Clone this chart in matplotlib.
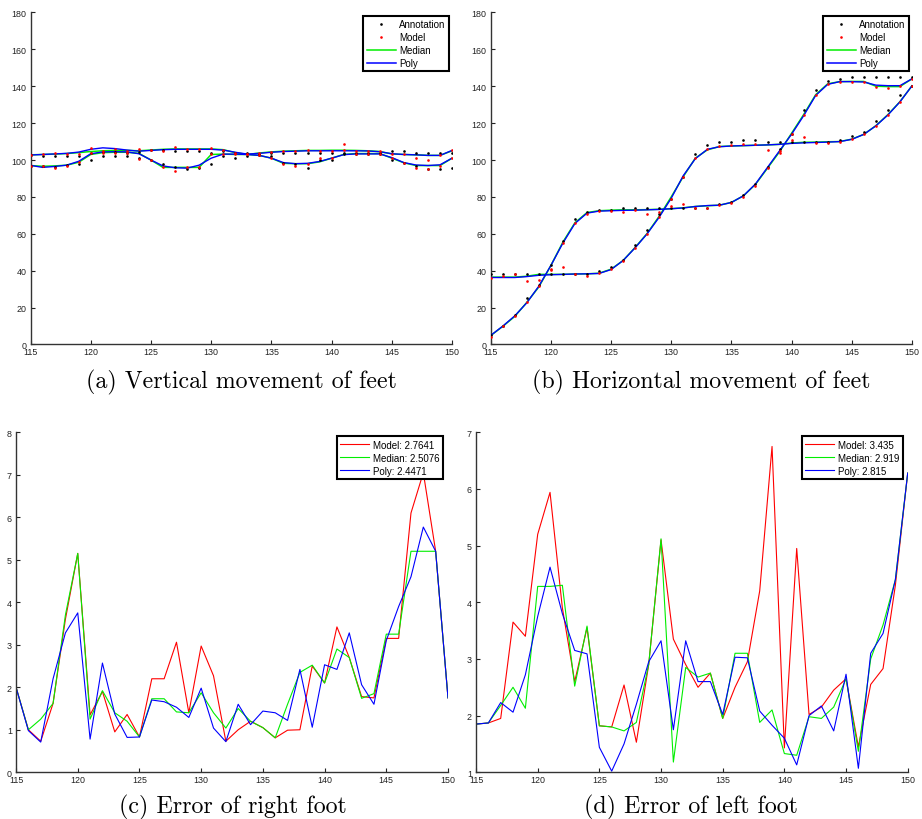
import matplotlib
matplotlib.use("Agg")
import matplotlib.pyplot as plt
from matplotlib.lines import Line2D

frames = list(range(115, 151))

# (a) vertical movement of feet
vert_poly_1 = [102.7, 103.0, 103.3, 103.6, 104.3, 105.8, 106.6, 106.2, 105.4, 104.8,
               105.2, 105.6, 105.8, 105.8, 105.8, 105.8, 105.4, 104.2, 103.2, 103.6,
               104.2, 104.6, 104.8, 105.0, 105.0, 105.0, 105.0, 105.0, 104.9, 104.5,
               103.4, 103.0, 102.8, 102.5, 102.5, 105.2]
vert_poly_2 = [97.1, 96.0, 96.5, 97.2, 99.3, 103.4, 104.4, 104.5, 104.4, 103.4,
               100.0, 96.8, 95.8, 95.6, 97.2, 101.0, 103.2, 103.2, 103.0, 102.5,
               101.0, 98.6, 98.0, 98.2, 99.2, 101.0, 102.9, 103.3, 103.3, 103.3,
               101.3, 98.6, 97.3, 97.0, 97.4, 101.0]
vert_med_1 = [102.8, 103.0, 103.2, 103.5, 104.0, 104.6, 105.0, 105.2, 105.2, 105.0,
              105.4, 105.8, 106.0, 106.0, 106.0, 106.0, 105.6, 104.0, 103.0, 103.8,
              104.4, 104.8, 105.0, 105.2, 105.2, 105.3, 105.3, 105.2, 105.0, 104.6,
              103.3, 103.0, 102.8, 102.5, 102.5, 105.0]
vert_med_2 = [97.0, 96.6, 96.8, 97.2, 98.8, 103.0, 104.0, 104.2, 104.2, 103.6,
              100.0, 96.0, 96.0, 96.0, 96.0, 103.0, 103.2, 103.0, 103.0, 102.5,
              101.0, 98.2, 98.0, 98.0, 99.0, 101.0, 103.0, 103.5, 103.5, 103.5,
              101.0, 98.5, 97.0, 97.0, 97.0, 101.0]
vert_ann_1 = [102.7, 102.2, 102.2, 102.2, 102.2, 104.0, 102.2, 102.2, 104.0, 104.5,
              105.4, 105.4, 104.9, 104.9, 104.9, 104.0, 105.0, 103.6, 103.6, 103.5,
              104.0, 104.0, 104.0, 104.0, 104.0, 104.0, 104.0, 104.0, 104.0, 104.0,
              104.9, 104.9, 103.6, 103.6, 103.6, 103.6]
vert_ann_2 = [97.0, 96.7, 96.0, 97.3, 97.8, 100.0, 104.5, 104.5, 102.2, 101.0,
              100.0, 98.0, 96.0, 95.0, 95.8, 98.0, 102.2, 101.0, 102.2, 102.5,
              102.2, 98.2, 98.0, 95.8, 99.8, 99.8, 103.0, 103.0, 103.0, 103.0,
              100.0, 98.5, 97.0, 95.0, 95.0, 95.8]
vert_mod_1 = [102.7, 103.0, 103.6, 103.2, 103.0, 106.3, 105.0, 106.2, 105.0, 106.2,
              105.5, 104.9, 106.9, 106.0, 106.0, 106.7, 105.2, 104.0, 103.0, 104.0,
              104.5, 105.0, 105.0, 105.5, 105.0, 105.0, 108.5, 105.0, 105.0, 105.0,
              103.5, 103.0, 101.3, 100.0, 102.5, 105.5]
vert_mod_2 = [97.0, 96.5, 95.7, 97.0, 99.0, 104.0, 104.0, 104.0, 104.0, 100.5,
              100.0, 96.0, 94.0, 96.0, 96.0, 103.0, 103.0, 103.0, 103.0, 102.5,
              101.0, 98.0, 96.7, 98.0, 101.3, 101.0, 105.5, 103.5, 103.5, 103.5,
              101.0, 98.5, 95.8, 95.0, 97.0, 101.3]

# (b) horizontal movement of feet
hor_poly_A = [36.3, 36.3, 36.3, 36.8, 37.5, 37.8, 38.0, 38.2, 38.3, 38.5,
              40.6, 45.5, 52.4, 60.0, 69.0, 79.3, 91.5, 100.7, 105.8, 107.2,
              107.6, 107.8, 108.0, 108.2, 108.5, 109.0, 109.3, 109.5, 109.7, 110.0,
              111.2, 113.9, 118.5, 124.4, 131.5, 140.2]
hor_poly_B = [4.9, 9.9, 15.5, 22.6, 31.6, 42.8, 55.0, 65.6, 71.2, 72.3,
              72.5, 72.7, 72.8, 73.0, 73.2, 73.6, 74.0, 74.8, 75.3, 75.5,
              77.0, 80.6, 87.0, 96.0, 105.0, 114.0, 124.0, 135.0, 141.0, 142.5,
              142.5, 142.3, 140.6, 140.3, 140.3, 144.0]
hor_med_A = [36.5, 36.5, 36.5, 37.0, 38.0, 38.0, 38.0, 38.2, 38.3, 38.6,
             40.8, 45.5, 52.6, 60.2, 69.5, 80.0, 91.0, 101.0, 105.5, 107.3,
             107.6, 107.8, 108.0, 108.2, 108.5, 109.2, 109.6, 109.7, 109.9, 110.0,
             111.3, 113.9, 118.6, 124.6, 131.6, 140.2]
hor_med_B = [4.8, 9.8, 15.2, 22.8, 31.2, 42.8, 55.5, 66.0, 71.5, 72.5,
             72.8, 73.0, 73.0, 73.1, 73.3, 73.6, 74.1, 74.8, 75.2, 75.5,
             77.0, 80.6, 86.8, 95.6, 104.5, 114.5, 124.6, 135.4, 141.3, 142.5,
             142.6, 142.6, 140.0, 139.8, 139.8, 144.0]
hor_ann_A = [38, 38, 38, 38, 38, 38, 38, 38, 38, 40,
             42, 46, 54, 62, 71, 79, 91, 103, 108, 110,
             110, 111, 111, 110, 110, 110, 110, 110, 110, 111,
             113, 115, 121, 127, 135, 140]
hor_ann_B = [5, 10, 16, 25, 32, 43, 56, 68, 72, 73,
             73, 74, 74, 74, 74, 74, 74, 74, 74, 76,
             77, 81, 87, 96, 106, 114, 127, 138, 143, 144,
             145, 145, 145, 145, 145, 145]
hor_mod_A = [36.3, 37, 38, 34.5, 35.2, 40.5, 41.8, 38, 37.3, 38.5,
             41, 45.5, 52.5, 60, 69, 79, 91, 101, 106, 107.5,
             108, 108.5, 108.5, 105.5, 104, 111, 112.3, 109, 109, 110,
             111.5, 114, 118.5, 124.5, 131.5, 140]
hor_mod_B = [4, 10, 15.5, 23, 31.6, 41, 55, 66, 71, 72.5,
             72.5, 72, 73, 71, 72, 75, 76, 74, 74, 75.5,
             76.5, 80, 86, 95.6, 105, 114, 124.5, 135, 141, 142.5,
             142.5, 142.5, 139.4, 139, 140, 144]

# (c) error of right foot
right_model = [2.0, 1.0, 0.73, 1.62, 3.6, 5.15, 1.35, 1.9, 0.95, 1.36,
               0.83, 2.2, 2.2, 3.06, 1.4, 2.97, 2.27, 0.73, 1.0, 1.2,
               1.05, 0.81, 0.99, 1.0, 2.5, 2.1, 3.42, 2.7, 1.78, 1.75,
               3.15, 3.15, 6.1, 7.05, 5.2, 1.75]
right_median = [2.0, 1.0, 1.25, 1.62, 3.7, 5.15, 1.25, 1.92, 1.4, 1.2,
                0.83, 1.73, 1.73, 1.42, 1.4, 1.87, 1.4, 1.04, 1.5, 1.2,
                1.05, 0.81, 1.6, 2.35, 2.52, 2.1, 2.9, 2.7, 1.74, 1.85,
                3.25, 3.25, 5.2, 5.2, 5.2, 1.75]
right_poly = [2.0, 0.98, 0.71, 2.2, 3.28, 3.75, 0.78, 2.57, 1.37, 0.82,
              0.83, 1.7, 1.66, 1.53, 1.29, 1.98, 1.04, 0.72, 1.6, 1.12,
              1.44, 1.4, 1.22, 2.42, 1.06, 2.53, 2.42, 3.28, 2.06, 1.6,
              3.1, 3.9, 4.6, 5.77, 5.2, 1.75]
right_labels = ["Model: 2.7641", "Median: 2.5076", "Poly: 2.4471"]

# (d) error of left foot
left_model = [1.85, 1.87, 1.95, 3.65, 3.4, 5.2, 5.94, 3.9, 2.6, 3.55,
              1.82, 1.8, 2.54, 1.53, 2.9, 5.1, 3.35, 2.9, 2.5, 2.75,
              1.95, 2.5, 2.95, 4.2, 6.75, 1.43, 4.95, 2.02, 2.15, 2.45,
              2.65, 1.45, 2.55, 2.83, 4.3, 6.28]
left_median = [1.85, 1.87, 2.18, 2.5, 2.13, 4.28, 4.28, 4.3, 2.52, 3.58,
               1.82, 1.8, 1.73, 1.88, 2.9, 5.12, 1.18, 2.85, 2.68, 2.75,
               1.95, 3.1, 3.1, 1.88, 2.1, 1.33, 1.3, 1.98, 1.95, 2.15,
               2.65, 1.37, 3.0, 3.6, 4.4, 6.28]
left_poly = [1.85, 1.87, 2.23, 2.06, 2.72, 3.75, 4.62, 3.8, 3.15, 3.09,
             1.44, 1.02, 1.5, 2.2, 2.95, 3.32, 1.75, 3.32, 2.6, 2.6,
             2.02, 3.03, 3.02, 2.08, 1.83, 1.6, 1.13, 2.0, 2.17, 1.73,
             2.73, 1.07, 3.1, 3.45, 4.4, 6.28]
left_labels = ["Model: 3.435", "Median: 2.919", "Poly: 2.815"]

captions = ["(a) Vertical movement of feet", "(b) Horizontal movement of feet",
            "(c) Error of right foot", "(d) Error of left foot"]

RED = "#ff0000"
GREEN = "#00ee00"
BLUE = "#0000ff"
TICKSIZE = 6.4
LEGSIZE = 7.0
DOT = 1.9


def style_axes(ax, ylim, yticks):
    ax.set_xlim(115, 150)
    ax.set_ylim(*ylim)
    ax.set_xticks(range(115, 151, 5))
    ax.set_yticks(yticks)
    for s in ["top", "right"]:
        ax.spines[s].set_visible(False)
    for s in ["left", "bottom"]:
        ax.spines[s].set_color("#333333")
        ax.spines[s].set_linewidth(1.0)
    ax.tick_params(direction="in", length=3, width=0.8, labelsize=TICKSIZE,
                   colors="#222222")
    ax.tick_params(axis="x", pad=2)
    ax.tick_params(axis="y", pad=3)
    for lab in ax.get_xticklabels() + ax.get_yticklabels():
        lab.set_fontfamily("Liberation Sans")


def add_legend(ax, handles, labels, anchor):
    leg = ax.legend(handles, labels, loc="upper right", bbox_to_anchor=anchor,
                    borderaxespad=0, fancybox=False, framealpha=1,
                    edgecolor="black", handlelength=3.0, handletextpad=0.35,
                    labelspacing=0.3, borderpad=0.35,
                    prop={"family": "Liberation Sans", "size": LEGSIZE})
    leg.get_frame().set_linewidth(1.5)


def movement_panel(ax, poly1, poly2, med1, med2, ann1, ann2, mod1, mod2):
    ax.plot(frames, med1, color=GREEN, lw=1.1, zorder=2)
    ax.plot(frames, med2, color=GREEN, lw=1.1, zorder=2)
    ax.plot(frames, poly1, color=BLUE, lw=1.0, zorder=3)
    ax.plot(frames, poly2, color=BLUE, lw=1.0, zorder=3)
    ax.plot(frames, ann1, "o", color="black", ms=DOT, mew=0, zorder=4)
    ax.plot(frames, ann2, "o", color="black", ms=DOT, mew=0, zorder=4)
    ax.plot(frames, mod1, "o", color=RED, ms=DOT, mew=0, zorder=4)
    ax.plot(frames, mod2, "o", color=RED, ms=DOT, mew=0, zorder=4)
    style_axes(ax, (0, 180), range(0, 181, 20))
    handles = [Line2D([], [], ls="none", marker="o", ms=DOT, mew=0, color="black"),
               Line2D([], [], ls="none", marker="o", ms=DOT, mew=0, color=RED),
               Line2D([], [], color=GREEN, lw=1.1),
               Line2D([], [], color=BLUE, lw=1.1)]
    add_legend(ax, handles, ["Annotation", "Model", "Median", "Poly"], (0.993, 0.99))


def error_panel(ax, model, median, poly, labels, ylim, yticks):
    l1, = ax.plot(frames, model, color=RED, lw=0.8)
    l2, = ax.plot(frames, median, color=GREEN, lw=0.8)
    l3, = ax.plot(frames, poly, color=BLUE, lw=0.8)
    style_axes(ax, ylim, yticks)
    add_legend(ax, [l1, l2, l3], labels, (0.988, 0.988))


fig = plt.figure(figsize=(9.22, 8.2), dpi=100)

ax_a = fig.add_axes([0.0331, 0.5787, 0.4572, 0.4049])
ax_b = fig.add_axes([0.5322, 0.5787, 0.4569, 0.4049])
ax_c = fig.add_axes([0.0174, 0.0570, 0.4685, 0.4146])
ax_d = fig.add_axes([0.5163, 0.0570, 0.4682, 0.4146])

movement_panel(ax_a, vert_poly_1, vert_poly_2, vert_med_1, vert_med_2,
               vert_ann_1, vert_ann_2, vert_mod_1, vert_mod_2)
movement_panel(ax_b, hor_poly_A, hor_poly_B, hor_med_A, hor_med_B,
               hor_ann_A, hor_ann_B, hor_mod_A, hor_mod_B)
error_panel(ax_c, right_model, right_median, right_poly, right_labels, (0, 8), range(0, 9))
error_panel(ax_d, left_model, left_median, left_poly, left_labels, (1, 7), range(1, 8))

cap_x = [241 / 922, 701 / 922, 233 / 922, 691 / 922]
cap_y = [1 - 388 / 820, 1 - 388 / 820, 1 - 813 / 820, 1 - 813 / 820]
for t, x, y in zip(captions, cap_x, cap_y):
    fig.text(x, y, t, ha="center", va="baseline", fontsize=17.2, family="cmr10")

fig.savefig("out.png", dpi=100)
